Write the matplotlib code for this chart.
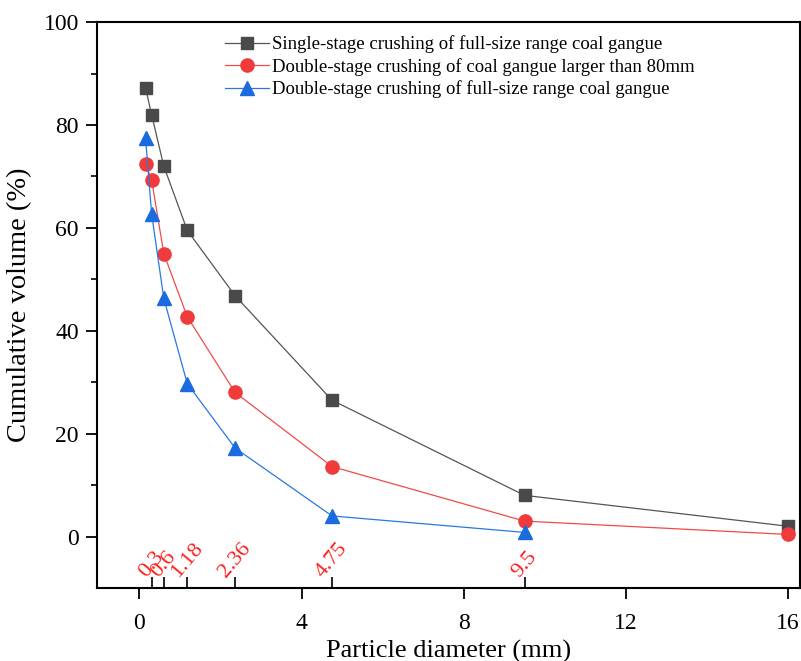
import matplotlib
matplotlib.use("Agg")
import matplotlib.pyplot as plt

plt.rcParams['font.family'] = ['Liberation Serif', 'DejaVu Serif']
plt.rcParams['mathtext.fontset'] = 'stix'

x_all = [0.15, 0.3, 0.6, 1.18, 2.36, 4.75, 9.5, 16]
single_full = [87.2, 82.0, 72.0, 59.5, 46.8, 26.5, 8.0, 2.0]
double_80 = [72.5, 69.3, 55.0, 42.7, 28.0, 13.6, 3.0, 0.4]
x_blue = [0.15, 0.3, 0.6, 1.18, 2.36, 4.75, 9.5]
double_full = [77.4, 62.7, 46.3, 29.7, 17.2, 4.0, 0.8]

sieve_sizes = [0.3, 0.6, 1.18, 2.36, 4.75, 9.5]
sieve_labels = ['0.3', '0.6', '1.18', '2.36', '4.75', '9.5']

labels = ['Single-stage crushing of full-size range coal gangue',
          'Double-stage crushing of coal gangue larger than 80mm',
          'Double-stage crushing of full-size range coal gangue']

fig = plt.figure(figsize=(8.01, 6.61), dpi=100)
ax = fig.add_axes([0.121, 0.1105, 0.878, 0.856])

ax.plot(x_all, single_full, color='#555555', lw=0.9, marker='s', ms=8.5,
        mfc='#4a4a4a', mec='#4a4a4a', label=labels[0])
ax.plot(x_all, double_80, color='#f04a4a', lw=0.9, marker='o', ms=9.5,
        mfc='#ef3b3b', mec='#ef3b3b', label=labels[1])
ax.plot(x_blue, double_full, color='#2a78e0', lw=0.9, marker='^', ms=10,
        mfc='#1a6ae0', mec='#1a6ae0', label=labels[2])

ax.set_xlim(-1.05, 16.3)
ax.set_ylim(-10, 100)
ax.set_xticks([0, 4, 8, 12, 16])
ax.set_yticks([0, 20, 40, 60, 80, 100])
ax.set_yticks([10, 30, 50, 70, 90], minor=True)
ax.tick_params(axis='both', which='major', direction='out', length=8, width=1.3,
               labelsize=17, top=False, right=False)
ax.tick_params(axis='x', which='major', pad=10)
ax.tick_params(axis='y', which='major', pad=5)
ax.tick_params(axis='y', which='minor', direction='out', length=4, width=1.2)
for s in ax.spines.values():
    s.set_linewidth(1.5)

# sieve-size inner ticks and red labels
ax.set_xticks(sieve_sizes, minor=True)
ax.tick_params(axis='x', which='minor', direction='in', length=8, width=1.2)
for xv, lab in zip(sieve_sizes, sieve_labels):
    ax.text(xv, -8.6, lab, color='#ff1f1f', fontsize=16, rotation=50,
            ha='center', va='bottom')

ax.set_xlabel('Particle diameter (mm)', fontsize=19, labelpad=4)
ax.set_ylabel('Cumulative volume (%)', fontsize=20.5, labelpad=8)

ax.legend(loc='upper left', bbox_to_anchor=(0.164, 1.0), frameon=False,
          fontsize=13.5, handlelength=2.3, handletextpad=0.2, labelspacing=0.25,
          borderaxespad=0.3)

fig.savefig('out.png', dpi=100)
